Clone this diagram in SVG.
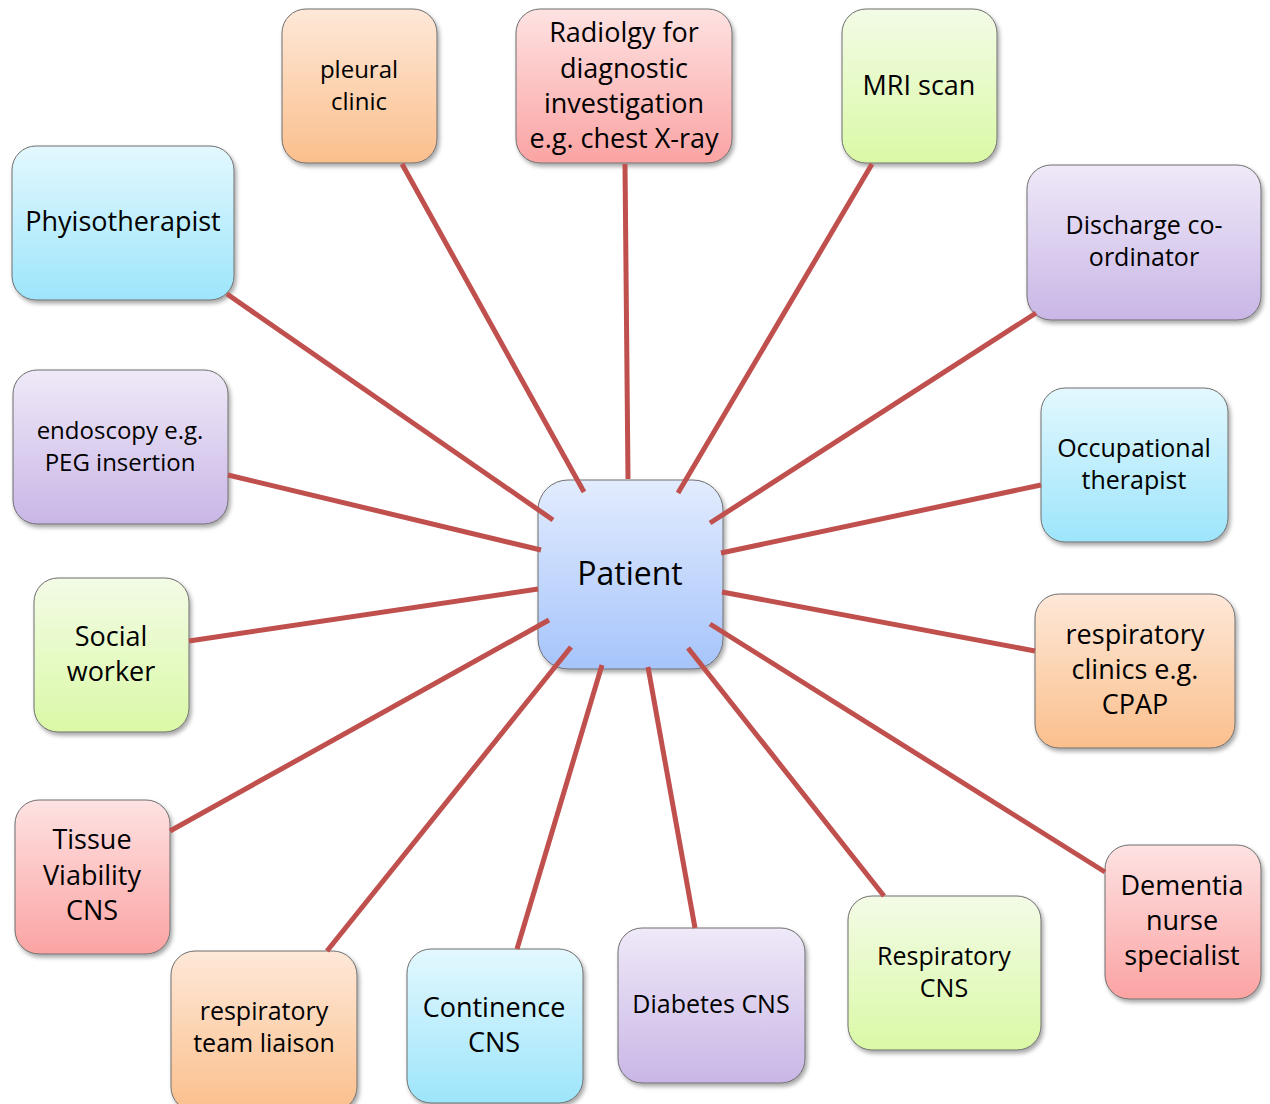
<svg xmlns="http://www.w3.org/2000/svg" width="1270" height="1104" viewBox="0 0 1270 1104">
<defs>
<linearGradient id="gBlue" x1="0" y1="0" x2="0" y2="1"><stop offset="0" stop-color="#e3f8fe"/><stop offset="1" stop-color="#9de5fb"/></linearGradient>
<linearGradient id="gOrange" x1="0" y1="0" x2="0" y2="1"><stop offset="0" stop-color="#fee8d8"/><stop offset="1" stop-color="#fbbf8c"/></linearGradient>
<linearGradient id="gRed" x1="0" y1="0" x2="0" y2="1"><stop offset="0" stop-color="#fee2e2"/><stop offset="1" stop-color="#fba3a3"/></linearGradient>
<linearGradient id="gGreen" x1="0" y1="0" x2="0" y2="1"><stop offset="0" stop-color="#f3fbe6"/><stop offset="1" stop-color="#daf9a6"/></linearGradient>
<linearGradient id="gPurple" x1="0" y1="0" x2="0" y2="1"><stop offset="0" stop-color="#efe9f8"/><stop offset="1" stop-color="#c9b6e6"/></linearGradient>
<linearGradient id="gPatient" x1="0" y1="0" x2="0" y2="1"><stop offset="0" stop-color="#e2ecfe"/><stop offset="1" stop-color="#a6c4fb"/></linearGradient>
<filter id="sh" x="-10%" y="-10%" width="125%" height="125%"><feDropShadow dx="2" dy="3" stdDeviation="2" flood-color="#000" flood-opacity="0.35"/></filter>
</defs>
<style>
.box{stroke:#6f6f6f;stroke-width:1;filter:url(#sh)}
.blue{fill:url(#gBlue)}.orange{fill:url(#gOrange)}.red{fill:url(#gRed)}.green{fill:url(#gGreen)}.purple{fill:url(#gPurple)}.pat{fill:url(#gPatient)}
text{font-family:"Open Sans","Noto Sans","DejaVu Sans",sans-serif;fill:#000;text-anchor:middle}
.s25{font-size:25px}.s27{font-size:27px}.s24{font-size:24px}
.con line{stroke:#c0504d;stroke-width:5;stroke-linecap:butt}
</style>
<rect width="1270" height="1104" fill="#fff"/>
<g id="n-physio"><rect class="box blue" x="12" y="146" width="222" height="154" rx="24"/><text class="s27" x="123" y="231">Phyisotherapist</text></g>
<g id="n-pleural"><rect class="box orange" x="282" y="9" width="155" height="154" rx="24"/><text class="s24" x="359" y="78">pleural</text><text class="s24" x="359" y="110">clinic</text></g>
<g id="n-radiology"><rect class="box red" x="516" y="9" width="216" height="154" rx="24"/><text class="s27" x="624" y="42">Radiolgy for</text><text class="s27" x="624" y="78">diagnostic</text><text class="s27" x="624" y="113">investigation</text><text class="s27" x="624" y="148">e.g. chest X-ray</text></g>
<g id="n-mri"><rect class="box green" x="842" y="9" width="155" height="154" rx="24"/><text class="s27" x="919" y="95">MRI scan</text></g>
<g id="n-discharge"><rect class="box purple" x="1027" y="165" width="234" height="155" rx="24"/><text class="s25" x="1144" y="234">Discharge co-</text><text class="s25" x="1144" y="266">ordinator</text></g>
<g id="n-endoscopy"><rect class="box purple" x="13" y="370" width="215" height="154" rx="24"/><text class="s24" x="120" y="439">endoscopy e.g.</text><text class="s24" x="120" y="471">PEG insertion</text></g>
<g id="n-occupational"><rect class="box blue" x="1041" y="388" width="187" height="154" rx="24"/><text class="s25" x="1134" y="457">Occupational</text><text class="s25" x="1134" y="489">therapist</text></g>
<g id="n-social"><rect class="box green" x="34" y="578" width="155" height="154" rx="24"/><text class="s27" x="111" y="646">Social</text><text class="s27" x="111" y="681">worker</text></g>
<g id="n-respclinics"><rect class="box orange" x="1035" y="594" width="200" height="154" rx="24"/><text class="s27" x="1135" y="644">respiratory</text><text class="s27" x="1135" y="679">clinics e.g.</text><text class="s27" x="1135" y="714">CPAP</text></g>
<g id="n-tissue"><rect class="box red" x="15" y="800" width="155" height="154" rx="24"/><text class="s27" x="92" y="849">Tissue</text><text class="s27" x="92" y="885">Viability</text><text class="s27" x="92" y="920">CNS</text></g>
<g id="n-dementia"><rect class="box red" x="1105" y="845" width="156" height="154" rx="24"/><text class="s27" x="1182" y="895">Dementia</text><text class="s27" x="1182" y="930">nurse</text><text class="s27" x="1182" y="965">specialist</text></g>
<g id="n-liaison"><rect class="box orange" x="171" y="951" width="186" height="160" rx="24"/><text class="s25" x="264" y="1020">respiratory</text><text class="s25" x="264" y="1052">team liaison</text></g>
<g id="n-continence"><rect class="box blue" x="407" y="949" width="176" height="154" rx="24"/><text class="s27" x="494" y="1017">Continence</text><text class="s27" x="494" y="1052">CNS</text></g>
<g id="n-diabetes"><rect class="box purple" x="618" y="928" width="187" height="155" rx="24"/><text class="s25" x="711" y="1013">Diabetes CNS</text></g>
<g id="n-respcns"><rect class="box green" x="848" y="896" width="193" height="154" rx="24"/><text class="s25" x="944" y="965">Respiratory</text><text class="s25" x="944" y="997">CNS</text></g>
<g id="n-patient"><rect class="box pat" x="538" y="480" width="185" height="189" rx="30"/><text x="630" y="585" style="font-size:32px">Patient</text></g>
<g id="connectors" class="con">
<line x1="227" y1="294" x2="553" y2="520"/>
<line x1="402" y1="164" x2="584" y2="492"/>
<line x1="625" y1="164" x2="628" y2="479"/>
<line x1="872" y1="164" x2="678" y2="493"/>
<line x1="1036" y1="313" x2="710" y2="523"/>
<line x1="1041" y1="485" x2="721" y2="553"/>
<line x1="228" y1="475" x2="541" y2="550"/>
<line x1="189" y1="641" x2="538" y2="589"/>
<line x1="1035" y1="651" x2="722" y2="592"/>
<line x1="170" y1="831" x2="549" y2="620"/>
<line x1="327" y1="951" x2="571" y2="647"/>
<line x1="517" y1="949" x2="602" y2="665"/>
<line x1="695" y1="928" x2="648" y2="667"/>
<line x1="884" y1="896" x2="688" y2="648"/>
<line x1="1105" y1="872" x2="710" y2="624"/>
</g>
</svg>
